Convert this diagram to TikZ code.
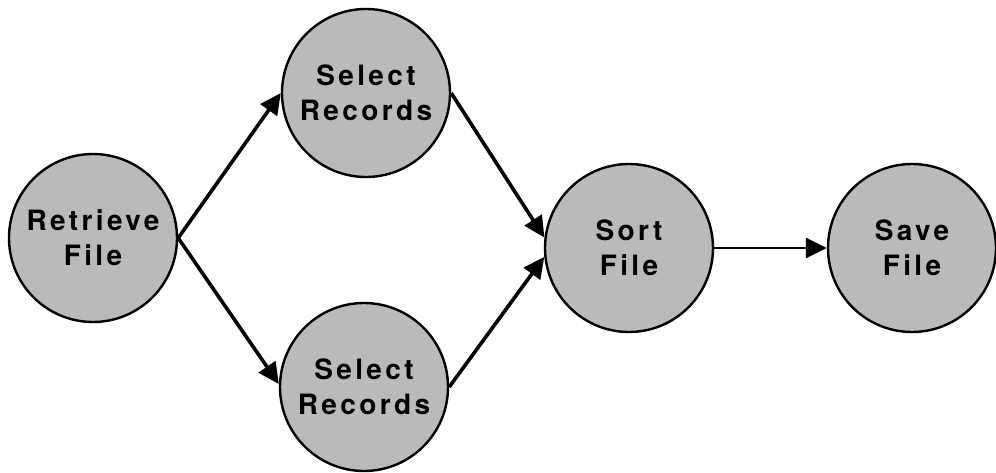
\documentclass[tikz,border=0pt]{standalone}
\usepackage{fontspec}
\setmainfont{TeX Gyre Heros}
\usetikzlibrary{arrows.meta}
\newfontfamily\labelfont[LetterSpace=12]{TeX Gyre Heros}
\begin{document}
\begin{tikzpicture}[x=1pt,y=-1pt,
  process/.style={circle, draw=black, line width=2.4pt, fill=black!27,
    minimum size=168pt, inner sep=0pt, align=center,
    font=\labelfont\bfseries\fontsize{28}{35}\selectfont},
  flow/.style={line width=3.6pt, -{Triangle[length=21pt,width=20pt]}},
  thinflow/.style={line width=2.6pt, -{Triangle[length=21pt,width=20pt]}}]
  \useasboundingbox (0,0) rectangle (996,473);
  \node[process] (ret)  at (93,238)  {Retrieve\\File};
  \node[process] (selA) at (366,93)  {Select\\Records};
  \node[process] (selB) at (364,387) {Select\\Records};
  \node[process] (sort) at (629,248) {Sort\\File};
  \node[process] (save) at (912,248) {Save\\File};
  \draw[flow] (ret.east) -- (selA.west);
  \draw[flow] (ret.east) -- (selB.178);
  \draw[flow] (selA.east) -- (sort.173);
  \draw[flow] (selB.east) -- (sort.186);
  \draw[thinflow] (sort.east) -- (save.west);
\end{tikzpicture}
\end{document}
